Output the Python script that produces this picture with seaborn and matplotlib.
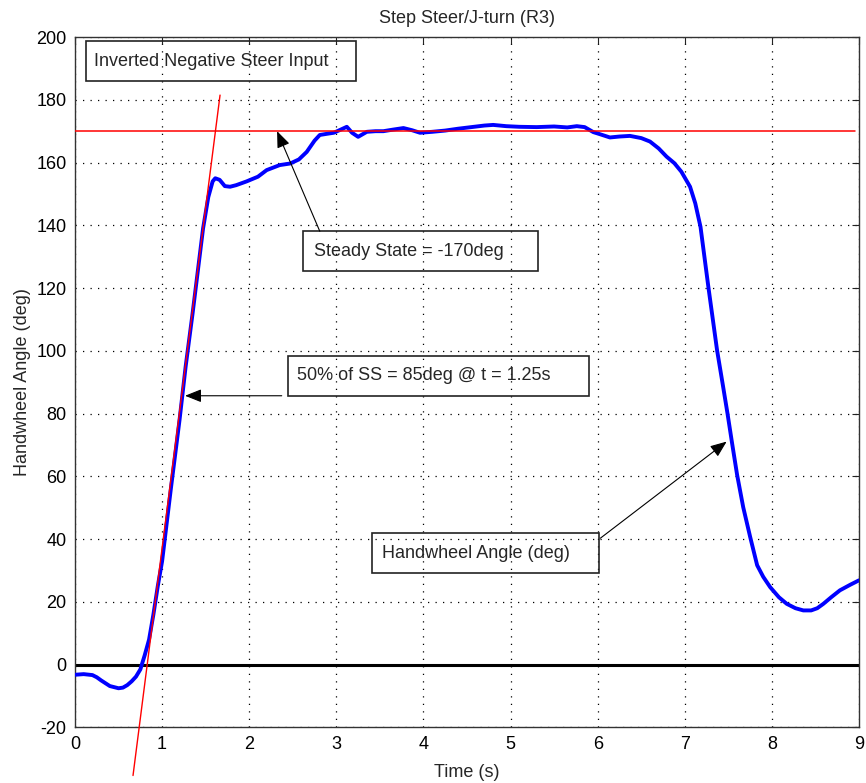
import numpy as np
import pandas as pd
import matplotlib
matplotlib.use("Agg")
import matplotlib.pyplot as plt
import seaborn as sns
from matplotlib.patches import Rectangle

# ---- data ----
time_s = [0, 0.1, 0.2, 0.25, 0.3, 0.4, 0.5, 0.55, 0.6, 0.65, 0.7, 0.75, 0.8, 0.85,
          0.9, 0.95, 1.0, 1.1, 1.2, 1.27, 1.35, 1.47, 1.53, 1.58, 1.61, 1.66, 1.72,
          1.78, 1.85, 1.97, 2.1, 2.2, 2.35, 2.47, 2.57, 2.66, 2.75, 2.81, 2.9, 2.97,
          3.05, 3.12, 3.18, 3.25, 3.35, 3.45, 3.54, 3.65, 3.77, 3.87, 3.96, 4.1, 4.25,
          4.4, 4.55, 4.7, 4.8, 4.95, 5.1, 5.3, 5.5, 5.65, 5.76, 5.85, 5.95, 6.03,
          6.14, 6.25, 6.37, 6.5, 6.6, 6.7, 6.79, 6.88, 6.96, 7.06, 7.12, 7.18, 7.27,
          7.37, 7.44, 7.49, 7.54, 7.6, 7.67, 7.75, 7.83, 7.9, 7.98, 8.08, 8.17, 8.27,
          8.36, 8.45, 8.52, 8.59, 8.68, 8.78, 8.9, 9.0]
handwheel_deg = [-3.2, -3.0, -3.3, -4.0, -5.0, -6.8, -7.5, -7.3, -6.5, -5.3, -3.8, -1.5,
                 3, 8, 16, 25, 33, 56, 78, 95, 112, 139, 149, 154, 155, 154.5, 152.5,
                 152.3, 152.8, 154, 155.5, 157.6, 159.2, 159.7, 161, 163.4, 167, 168.8,
                 169.2, 169.5, 170.5, 171.4, 169.5, 168.2, 169.8, 170, 170, 170.5, 171,
                 170.3, 169.5, 169.8, 170.2, 170.8, 171.3, 171.8, 172, 171.6, 171.4,
                 171.3, 171.5, 171.2, 171.6, 171.3, 169.7, 169, 168, 168.3, 168.5, 167.8,
                 166.7, 164.5, 161.9, 159.8, 157.1, 152.3, 147, 139.5, 120.4, 100.2, 88.5,
                 80, 71, 60.5, 50.2, 40.7, 31.7, 28, 24.7, 21.5, 19.4, 18, 17.3, 17.3,
                 18, 19.4, 21.5, 23.7, 25.5, 26.9]

steady_state = 170
ss_line_t = [0, 8.95]
tangent_t = [0.666, 1.665]
tangent_deg = [-35.3, 181.5]

x_ticks = [0, 1, 2, 3, 4, 5, 6, 7, 8, 9]
y_ticks = [-20, 0, 20, 40, 60, 80, 100, 120, 140, 160, 180, 200]

title = "Step Steer/J-turn (R3)"
xlabel = "Time (s)"
ylabel = "Handwheel Angle (deg)"

df = pd.DataFrame({"t": time_s, "deg": handwheel_deg})

sns.set_style("white")
plt.rcParams["font.family"] = ["Liberation Sans", "DejaVu Sans"]
plt.rcParams["axes.unicode_minus"] = False

FS = 13

fig = plt.figure(figsize=(8.66, 7.83), dpi=100)
ax = fig.add_axes([0.0866, 0.0709, 0.9054, 0.8818])

ax.set_xlim(0, 9)
ax.set_ylim(-20, 200)
ax.set_xticks(x_ticks)
ax.set_yticks(y_ticks)
ax.grid(True, color="black", linestyle=(0, (1, 5)), linewidth=0.9)
ax.set_axisbelow(True)

# zero line
ax.axhline(0, color="black", linewidth=2.2, zorder=2)

sns.lineplot(data=df, x="t", y="deg", ax=ax, color="#0000ff", linewidth=2.8,
             zorder=3, estimator=None, sort=False)

ax.plot(ss_line_t, [steady_state, steady_state], color="#ff0000", linewidth=1.1, zorder=4)
ax.plot(tangent_t, tangent_deg, color="#ff0000", linewidth=1.0, zorder=4, clip_on=False)

ax.set_title(title, fontsize=FS, pad=10)
ax.set_xlabel(xlabel, fontsize=FS, labelpad=8)
ax.set_ylabel(ylabel, fontsize=FS, labelpad=4)
ax.tick_params(direction="in", length=5, width=0.8, top=True, right=True,
               labelsize=FS, pad=6, colors="#222222")
for lab in ax.get_xticklabels() + ax.get_yticklabels():
    lab.set_color("black")
for s in ax.spines.values():
    s.set_color("#333333")
    s.set_linewidth(1.0)

# annotation boxes (transparent, as in reference)
def box(x0, y0, x1, y1, text, tx):
    ax.add_patch(Rectangle((x0, y0), x1 - x0, y1 - y0, facecolor="none",
                           edgecolor="#222222", linewidth=1.2, zorder=5))
    ax.text(tx, (y0 + y1) / 2, text, fontsize=FS, va="center", ha="left", zorder=6)

box(0.126, 185.9, 3.23, 198.7, "Inverted Negative Steer Input", 0.22)
box(2.62, 125.5, 5.32, 138.1, "Steady State = -170deg", 2.74)
box(2.45, 85.7, 5.90, 98.4, "50% of SS = 85deg @ t = 1.25s", 2.545)
box(3.41, 29.2, 6.01, 41.9, "Handwheel Angle (deg)", 3.52)

arrow = dict(arrowstyle="-|>,head_length=1.0,head_width=0.4", color="black",
             linewidth=0.8, shrinkA=0, shrinkB=0)
ax.annotate("", xy=(2.32, 170), xytext=(2.81, 138.1), arrowprops=arrow, zorder=6)
ax.annotate("", xy=(1.263, 85.7), xytext=(2.373, 85.7), arrowprops=arrow, zorder=6)
ax.annotate("", xy=(7.48, 71.1), xytext=(6.03, 40.3), arrowprops=arrow, zorder=6)

fig.savefig("out.png", dpi=100)
